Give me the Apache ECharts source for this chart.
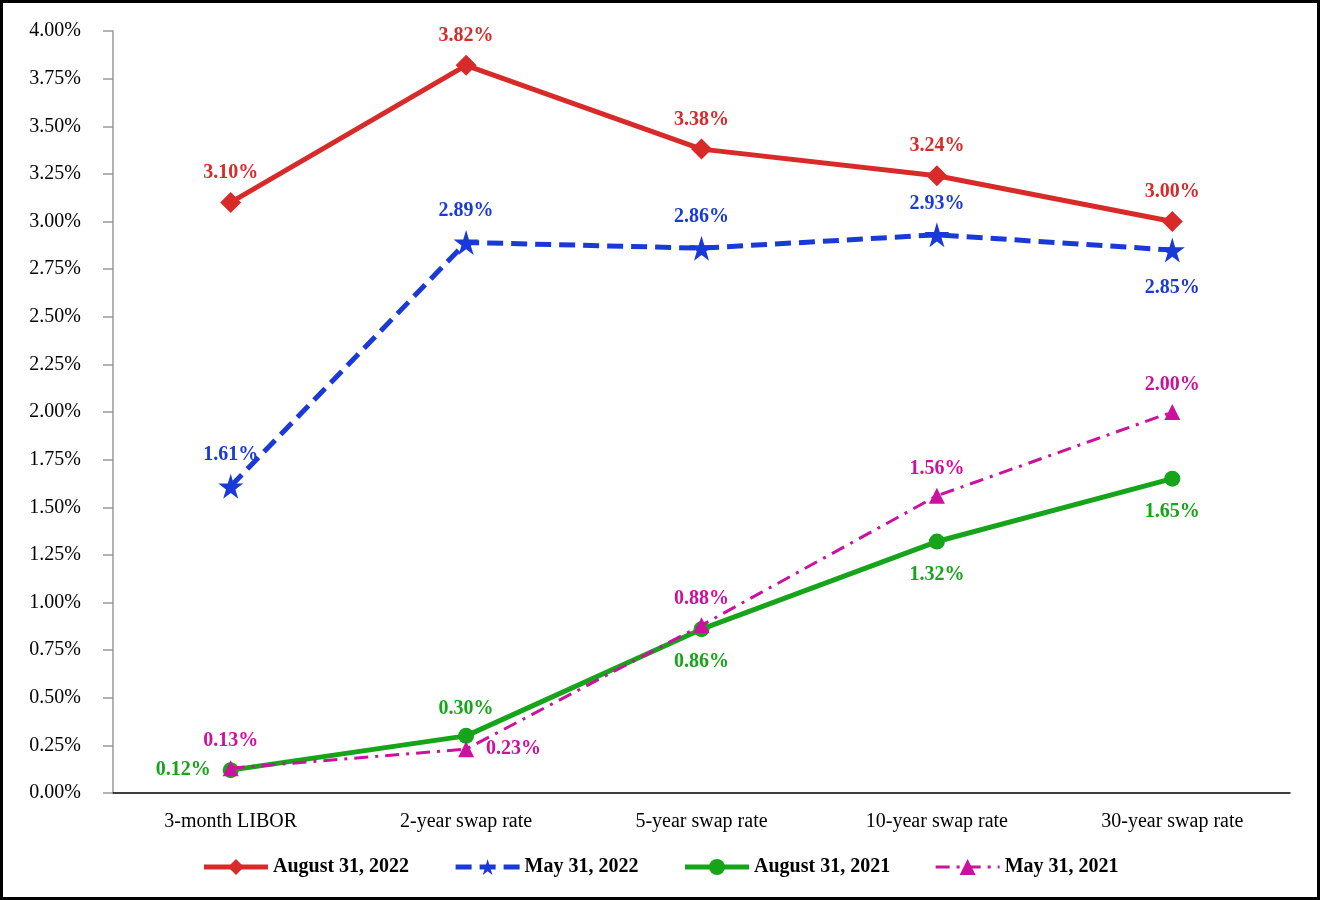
<!DOCTYPE html>
<html>
<head>
<meta charset="utf-8">
<script src="https://cdn.jsdelivr.net/npm/echarts@6/dist/echarts.min.js"></script>
<style>
  html, body { margin: 0; padding: 0; background: #fff; }
  #chart { width: 1320px; height: 900px; }
</style>
</head>
<body>
<div id="chart"></div>
<script>
// categories and values
const categories = ['3-month LIBOR', '2-year swap rate', '5-year swap rate', '10-year swap rate', '30-year swap rate'];
const aug2022 = [3.10, 3.82, 3.38, 3.24, 3.00];
const may2022 = [1.61, 2.89, 2.86, 2.93, 2.85];
const aug2021 = [0.12, 0.30, 0.86, 1.32, 1.65];
const may2021 = [0.13, 0.23, 0.88, 1.56, 2.00];

// where each point's label sits
const aug2022Pos = ['top', 'top', 'top', 'top', 'top'];
const may2022Pos = ['top', 'top', 'top', 'top', 'bottom'];
const aug2021Pos = ['left', 'top', 'bottom', 'bottom', 'bottom'];
const may2021Pos = ['top', 'right', 'top', 'top', 'top'];

const starPath = 'path://M50,0 L61,35 L98,35 L68,57 L79,91 L50,70 L21,91 L32,57 L2,35 L39,35 Z';
const font = '"Liberation Serif", "Times New Roman", serif';

const chart = echarts.init(document.getElementById('chart'), null, { renderer: 'canvas' });

const labelStyle = (color) => ({
    show: true,
    color: color,
    fontFamily: font,
    fontWeight: 'bold',
    fontSize: 20,
    formatter: p => p.value.toFixed(2) + '%'
});

const gaps = { top: 9, bottom: 15, left: 12, right: 12 };

const withPos = (values, positions) =>
    values.map((v, i) => ({
        value: v,
        label: { position: positions[i], distance: gaps[positions[i]] }
    }));

chart.setOption({
    backgroundColor: '#fff',
    animation: false,
    graphic: [{
        type: 'rect',
        shape: { x: 1.5, y: 1.5, width: 1317, height: 897 },
        style: { fill: 'none', stroke: '#000', lineWidth: 3 },
        silent: true
    }],
    legend: {
        top: 852,
        left: 'center',
        itemWidth: 64,
        itemHeight: 20,
        itemGap: 44,
        textStyle: { fontFamily: font, fontWeight: 'bold', fontSize: 20, color: '#000' },
        data: [
            { name: 'August 31, 2022', lineStyle: { width: 5 } },
            { name: 'May 31, 2022', lineStyle: { width: 5 } },
            { name: 'August 31, 2021', lineStyle: { width: 5 } },
            { name: 'May 31, 2021', lineStyle: { width: 3 } }
        ]
    },
    grid: {
        left: 113,
        right: 30,
        top: 31,
        bottom: 107,
        containLabel: false
    },
    xAxis: {
        type: 'category',
        data: categories,
        boundaryGap: true,
        axisLine: { lineStyle: { color: '#000', width: 1.5 } },
        axisTick: { alignWithLabel: true, length: 8, lineStyle: { color: '#999', width: 1.5 } },
        axisLabel: { color: '#000', fontFamily: font, fontSize: 20, margin: 19 },
        splitLine: { show: false }
    },
    yAxis: {
        type: 'value',
        min: 0,
        max: 4,
        interval: 0.25,
        axisLine: { show: true, lineStyle: { color: '#999', width: 1.5 } },
        axisTick: { show: true, length: 10, lineStyle: { color: '#999', width: 1.5 } },
        axisLabel: {
            color: '#000', fontFamily: font, fontSize: 20, margin: 32,
            formatter: v => v.toFixed(2) + '%'
        },
        splitLine: { show: false }
    },
    series: [
        {
            name: 'August 31, 2022',
            type: 'line',
            data: withPos(aug2022, aug2022Pos),
            symbol: 'diamond',
            symbolSize: 21,
            color: '#d92a2a',
            lineStyle: { width: 5 },
            label: labelStyle('#d92a2a'),
            z: 4
        },
        {
            name: 'May 31, 2022',
            type: 'line',
            data: withPos(may2022, may2022Pos),
            symbol: starPath,
            symbolSize: 25,
            color: '#1a3ad8',
            lineStyle: { width: 5, type: [16, 8] },
            label: labelStyle('#1a3ad8'),
            z: 3
        },
        {
            name: 'August 31, 2021',
            type: 'line',
            data: withPos(aug2021, aug2021Pos),
            symbol: 'circle',
            symbolSize: 16,
            color: '#16a51a',
            lineStyle: { width: 5 },
            label: labelStyle('#16a51a'),
            z: 2
        },
        {
            name: 'May 31, 2021',
            type: 'line',
            data: withPos(may2021, may2021Pos),
            symbol: 'triangle',
            symbolSize: 16,
            color: '#cc119e',
            lineStyle: { width: 3, type: [14, 7, 3, 7] },
            label: labelStyle('#cc119e'),
            z: 5
        }
    ]
});
</script>
</body>
</html>
